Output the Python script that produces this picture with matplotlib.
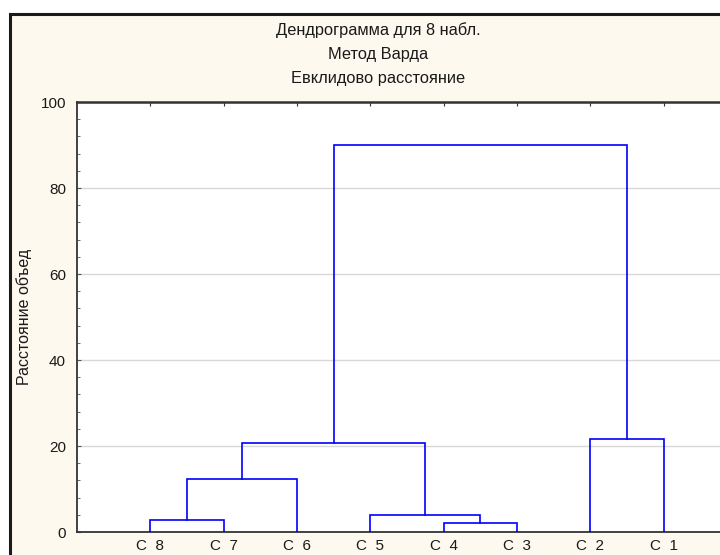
import matplotlib
matplotlib.use('Agg')
import matplotlib.pyplot as plt
from matplotlib.patches import Rectangle
from matplotlib.ticker import MultipleLocator

plt.rcParams['font.family'] = ['Liberation Sans', 'DejaVu Sans']

# leaves in display order, left to right
leaf_labels = ['C  8', 'C  7', 'C  6', 'C  5', 'C  4', 'C  3', 'C  2', 'C  1']
# merges: (left node, right node, linkage distance); new nodes numbered from 8
merge_left = [0, 4, 8, 3, 10, 6, 12]
merge_right = [1, 5, 2, 9, 11, 7, 13]
merge_height = [2.8, 2.0, 12.3, 4.0, 20.7, 21.7, 90.0]

y_ticks = [0, 20, 40, 60, 80, 100]
titles = ['Дендрограмма для 8 набл.', 'Метод Варда', 'Евклидово расстояние']

fig = plt.figure(figsize=(7.2, 5.55), dpi=100)
fig.patch.set_facecolor('white')

# outer frame (cream panel with dark border), behind the axes
frame = Rectangle((10 / 720, -0.05), 1.1, 1.05 - 14 / 555,
                  transform=fig.transFigure, facecolor='#FEF9EE',
                  edgecolor='#1a1a1a', linewidth=2.2, zorder=-5)
fig.patches.append(frame)

ax = fig.add_axes([77 / 720, 23 / 555, 660 / 720, 430 / 555])
ax.set_facecolor('white')

# node positions / heights
xpos = {i: i + 1 for i in range(len(leaf_labels))}
ypos = {i: 0.0 for i in range(len(leaf_labels))}
node = len(leaf_labels)
for l, r, h in zip(merge_left, merge_right, merge_height):
    xl, xr = xpos[l], xpos[r]
    ax.plot([xl, xl, xr, xr], [ypos[l], h, h, ypos[r]],
            color='#0000FF', lw=1.2, solid_joinstyle='miter', zorder=3)
    xpos[node] = (xl + xr) / 2
    ypos[node] = h
    node += 1

ax.set_xlim(0, len(leaf_labels) + 1)
ax.set_ylim(0, 100)
ax.set_xticks(range(1, len(leaf_labels) + 1))
ax.set_xticklabels(leaf_labels)
ax.set_yticks(y_ticks)
ax.yaxis.set_minor_locator(MultipleLocator(4))
ax.grid(axis='y', color='#d8d8d8', lw=1.0, zorder=1)
ax.set_axisbelow(True)

ax.tick_params(axis='x', bottom=False, top=True, labelbottom=True,
               direction='in', length=3, color='#333333',
               labelsize=11, labelcolor='#1a1a1a', pad=5)
ax.tick_params(axis='y', which='both', direction='in', length=3,
               color='#555555', labelsize=11, labelcolor='#1a1a1a', pad=8)
ax.tick_params(axis='y', which='minor', length=2)

for side in ['top', 'left', 'bottom']:
    ax.spines[side].set_color('#333333')
    ax.spines[side].set_linewidth(1.3)
ax.spines['top'].set_linewidth(1.8)
ax.spines['right'].set_visible(False)

ax.set_ylabel('Расстояние объед', fontsize=11.5, color='#1a1a1a', labelpad=6)

for i, t in enumerate(titles):
    fig.text(378 / 720, 1 - (30 + 24.5 * i) / 555, t, ha='center',
             va='center', fontsize=11.8, color='#1a1a1a')

fig.savefig('out.png', dpi=100, facecolor=fig.get_facecolor())
